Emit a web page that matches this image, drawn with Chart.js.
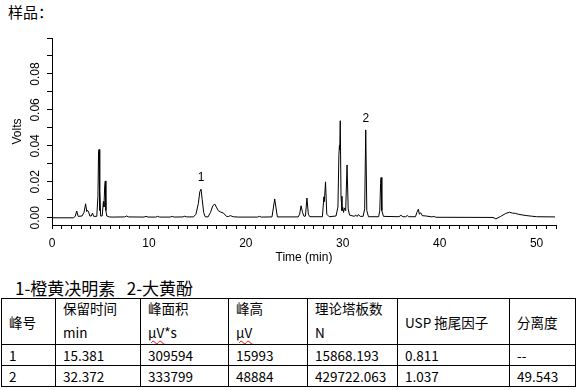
<!DOCTYPE html>
<html>
<head>
<meta charset="utf-8">
<script src="https://cdn.jsdelivr.net/npm/chart.js@4.4.0/dist/chart.umd.min.js"></script>
<style>
body { margin: 0; background: #fff; width: 576px; height: 390px; overflow: hidden; position: relative; font-family: "Noto Sans CJK SC", sans-serif; color: #000; }
#title { position: absolute; left: 8px; top: 2px; font-size: 15px; line-height: 20px; }
#wrap { position: absolute; left: 0; top: 0; width: 576px; height: 275px; }
#caption { position: absolute; left: 15px; top: 278px; font-size: 17px; line-height: 20px; white-space: pre; }
table { position: absolute; left: 1px; top: 298px; border-collapse: collapse; table-layout: fixed; width: 574px; font-size: 13.5px; }
td { border: 1px solid #000; padding: 0 0 0 7px; vertical-align: middle; white-space: nowrap; overflow: hidden; }
td.two { vertical-align: top; }
td.two div { line-height: 18px; }
td.two div + div { margin-top: 6px; }
.sq { text-decoration: underline wavy #e00; text-decoration-thickness: 1px; text-underline-offset: 2px; }
</style>
</head>
<body>
<div id="title">样品：</div>
<div id="wrap"><canvas id="chart" width="576" height="275"></canvas></div>
<div id="caption">1-橙黄决明素   2-大黄酚</div>
<table>
  <colgroup><col style="width:54px"><col style="width:85px"><col style="width:88px"><col style="width:79px"><col style="width:90px"><col style="width:112px"><col style="width:66px"></colgroup>
  <tr style="height:46px">
    <td>峰号</td>
    <td class="two"><div>保留时间</div><div>min</div></td>
    <td class="two"><div>峰面积</div><div><span class="sq">µV</span>*s</div></td>
    <td class="two"><div>峰高</div><div><span class="sq">µV</span></div></td>
    <td class="two"><div>理论塔板数</div><div>N</div></td>
    <td>USP 拖尾因子</td>
    <td>分离度</td>
  </tr>
  <tr style="height:21px"><td>1</td><td>15.381</td><td>309594</td><td>15993</td><td>15868.193</td><td>0.811</td><td>--</td></tr>
  <tr style="height:20px"><td>2</td><td>32.372</td><td>333799</td><td>48884</td><td>429722.063</td><td>1.037</td><td>49.543</td></tr>
</table>
<script>
// chromatogram trace: time (min) / signal (V)
const times = [
  0.0, 2.2, 2.4, 2.55, 2.7, 3.1, 3.3, 3.47, 3.58, 3.66, 3.78, 3.9, 4.05, 4.18, 4.3,
  4.62, 4.74, 4.8, 4.85, 4.9, 4.95, 5.02, 5.18, 5.3, 5.36, 5.44, 5.5, 5.56, 5.65, 5.9,
  6.2, 7.5, 7.7, 7.9, 9.5, 9.7, 9.9, 10.7, 10.9, 11.1, 12.2, 12.4, 12.6, 13.5, 13.7, 13.9,
  14.6, 14.85, 15.1, 15.25, 15.38, 15.5, 15.65, 15.8, 16.1, 16.35, 16.6, 16.8, 17.0, 17.15,
  17.4, 17.7, 18.0, 18.2, 18.4, 18.7, 19.2, 21.2, 21.4, 21.6,
  22.7, 22.85, 22.98, 23.1, 23.25, 25.4, 25.55, 25.7, 25.85, 26.0, 26.15, 26.3, 26.45, 26.6,
  27.9, 28.05, 28.1, 28.22, 28.35, 28.6, 29.3, 29.5, 29.6, 29.66, 29.69, 29.74, 29.82, 29.92,
  30.0, 30.08, 30.18, 30.3, 30.44, 30.56, 30.7, 31.2, 31.3, 31.5, 31.6, 31.8,
  32.1, 32.26, 32.37, 32.48, 32.65, 33.7, 33.82, 33.9, 33.95, 34.03, 34.2,
  35.8, 36.0, 36.2, 36.5, 36.65, 36.8, 37.5, 37.65, 37.8, 37.9, 38.05, 38.2, 38.6,
  39.2, 39.4, 39.6, 45.5, 45.8, 46.3, 46.8, 47.2, 47.5, 47.8, 48.1, 48.5, 49.0, 49.5, 50.0, 51.9
];
const volts = [
  0.0, 0.0, 0.0008, 0.0038, 0.0008, 0.001, 0.003, 0.0078, 0.0035, 0.0042, 0.0032, 0.001, 0.001, 0.0026, 0.0008,
  0.0008, 0.012, 0.036, 0.038, 0.004, 0.0146, 0.001, 0.001, 0.009, 0.006, 0.018, 0.0205, 0.004, 0.001, 0.0005,
  0.0004, 0.0005, 0.001, 0.0005, 0.0004, 0.0008, 0.0004, 0.0004, 0.0008, 0.0004, 0.0004, 0.0008, 0.0004, 0.0005, 0.0009, 0.0005,
  0.0005, 0.002, 0.008, 0.0145, 0.0159, 0.01, 0.003, 0.0006, 0.0005, 0.003, 0.0068, 0.0076, 0.0055, 0.004,
  0.0032, 0.0026, 0.0008, 0.0007, 0.0012, 0.0006, 0.0004, 0.0004, 0.0008, 0.0004,
  0.0005, 0.006, 0.0105, 0.006, 0.0005, 0.0005, 0.002, 0.0067, 0.003, 0.0008, 0.001, 0.011, 0.002, 0.0006,
  0.0006, 0.0117, 0.009, 0.020, 0.002, 0.0006, 0.001, 0.006, 0.035, 0.0405, 0.038, 0.054, 0.012, 0.004,
  0.0058, 0.003, 0.0055, 0.004, 0.0294, 0.005, 0.0015, 0.0008, 0.0015, 0.0008, 0.0018, 0.0008,
  0.0008, 0.005, 0.0489, 0.004, 0.0006, 0.0006, 0.004, 0.019, 0.0224, 0.004, 0.0008,
  0.0006, 0.0014, 0.0006, 0.0006, 0.0013, 0.0006, 0.0006, 0.003, 0.0048, 0.002, 0.0028, 0.0012, 0.001,
  0.0005, 0.0008, 0.0003, 0.0002, -0.0006, 0.0008, 0.0024, 0.0031, 0.0026, 0.0025, 0.002, 0.0016, 0.0012, 0.0009, 0.0006, 0.0005
];

// tick marks and labels
const xLabels = [0, 10, 20, 30, 40, 50];
const yTicks = [0, 0.01, 0.02, 0.03, 0.04, 0.05, 0.06, 0.07, 0.08, 0.09, 0.1];
const yLabels = [0, 0.02, 0.04, 0.06, 0.08];

// numbered peaks (from the table)
const peakNames = ['1', '2'];
const peakTimes = [15.381, 32.372];
const peakHeights = [0.015993, 0.048884];

Chart.defaults.font.family = '"Liberation Sans", Arial, sans-serif';
Chart.defaults.font.size = 12;
Chart.defaults.color = '#000';

// y tick labels are rotated like the original, peak numbers above the peaks
const labelPlugin = {
    id: 'labelPlugin',
    afterDraw(chart) {
        const { ctx, scales: { x, y } } = chart;
        ctx.save();
        ctx.font = '12px "Liberation Sans", Arial, sans-serif';
        ctx.fillStyle = '#000';
        ctx.textAlign = 'center';
        ctx.textBaseline = 'middle';
        yLabels.forEach(v => {
            ctx.save();
            ctx.translate(y.right - 16, y.getPixelForValue(v));
            ctx.rotate(-Math.PI / 2);
            ctx.fillText(v.toFixed(2), 0, 0);
            ctx.restore();
        });
        peakNames.forEach((n, i) => {
            ctx.fillText(n, x.getPixelForValue(peakTimes[i]), y.getPixelForValue(peakHeights[i]) - 11);
        });
        ctx.restore();
    }
};

new Chart(document.getElementById('chart').getContext('2d'), {
    type: 'line',
    data: {
        datasets: [{
            data: times.map((t, i) => ({ x: t, y: volts[i] })),
            borderColor: '#000',
            borderWidth: 1,
            pointRadius: 0,
            tension: 0,
            fill: false
        }]
    },
    options: {
        responsive: false,
        animation: false,
        layout: { padding: { top: 38, right: 20, bottom: 0, left: 0 } },
        plugins: { legend: { display: false }, tooltip: { enabled: false } },
        scales: {
            x: {
                type: 'linear',
                min: 0,
                max: 52,
                ticks: {
                    stepSize: 1,
                    autoSkip: false,
                    maxRotation: 0,
                    padding: 7,
                    callback: v => xLabels.includes(v) ? String(v) : ''
                },
                grid: { drawOnChartArea: false, drawTicks: true, tickLength: 4, color: '#000' },
                border: { color: '#000', width: 1 },
                title: { display: true, text: 'Time (min)', padding: { top: 0, bottom: 10 } },
                afterFit: s => { s.height = 50; }
            },
            y: {
                min: -0.004,
                max: 0.1,
                ticks: { display: false },
                afterBuildTicks: s => { s.ticks = yTicks.map(v => ({ value: v })); },
                grid: { drawOnChartArea: false, drawTicks: true, tickLength: 5, color: '#000' },
                border: { color: '#000', width: 1 },
                title: { display: true, text: 'Volts', padding: { top: 10, bottom: 0 } },
                afterFit: s => { s.width = 52; }
            }
        }
    },
    plugins: [labelPlugin]
});
</script>
</body>
</html>
